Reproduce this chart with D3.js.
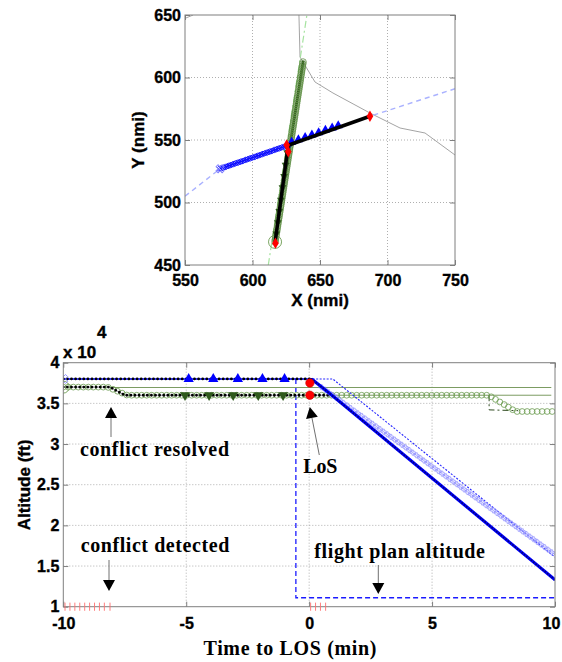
<!DOCTYPE html>
<html><head><meta charset="utf-8">
<script src="https://cdn.jsdelivr.net/npm/d3@7"></script>
<style>
html,body{margin:0;padding:0;background:#fff;}
svg{display:block;}
.tick text{font-family:"Liberation Sans",Arial,sans-serif !important;font-weight:bold !important;fill:#000;}
.tick line{stroke:#7f7f7f;}
.domain{display:none;}
.grid{stroke:#9a9a9a;stroke-width:0.8;stroke-dasharray:1,2;}
.lab{font-family:"Liberation Sans",Arial,sans-serif;font-weight:bold;fill:#000;}
.ann{font-family:"Liberation Serif","Times New Roman",serif;font-weight:bold;fill:#000;}
</style></head><body>
<svg id="c" width="562" height="662"></svg>
<script>
// ================= DATA =================
// ---- Plan view (top panel) ----
const planXTicks = [550, 600, 650, 700, 750];
const planYTicks = [450, 500, 550, 600, 650];
const ac1PlannedRoute = [[550, 505], [576, 527], [627, 546], [687, 569], [750, 591]];
const ac1TrackEarly = [[576, 527], [627, 546]];
const ac1TrackLate = [[627, 546], [687, 569]];
const ac1Triangles = [[629, 547.2], [634, 549.1], [639, 551], [644, 552.9], [649, 554.8], [654, 556.7], [659, 558.6], [663.5, 560.3]];
const ac2PlannedRoute = [[611.7, 450], [640.3, 650]];
const ac2Track = [[616.7, 468.5], [637.6, 613.5]];
const ac2Resolved = [[616.7, 468], [626.5, 546]];
const ac2Triangles = [[625.7, 540], [624.5, 530], [623.4, 521], [622.2, 512], [621, 502], [619.8, 493], [618.7, 484], [617.6, 475]];
const otherTrack = [[634.4, 650], [635.2, 616.4], [646.3, 596.4], [659.6, 587.6], [687, 571.6], [709.3, 559.6], [727.8, 555.6], [750, 538]];
const otherTrack2 = [[550, 647.3], [556, 650]];
const planRedMarkers = [[687, 569], [617, 467.5], [625.3, 546], [626.5, 540.6]];
const ac1Start = [[576, 527]];
const ac2Start = [[616.7, 468.5]];

// ---- Altitude profile (bottom panel), altitude in units of 10^4 ft ----
const timeTicks = [-10, -5, 0, 5, 10];
const altTicks = [1, 1.5, 2, 2.5, 3, 3.5, 4];
const ac1Actual = [[-10, 3.8], [0.1, 3.8], [0.84, 3.62], [10, 1.33]];
const ac1Predicted = [[0.5, 3.7], [10, 1.64]];
const ac1Intent = [[0, 3.8], [0.96, 3.8], [10, 1.61]];
const flightPlanAlt = [[-0.54, 3.8], [-0.54, 1.11], [10, 1.11]];
const ac1TriTimes = [-4.9, -3.9, -2.9, -1.9, -1.0];
const ac1Level = 3.8;
const ac2Actual = [[-10, 3.7], [-8.1, 3.7], [-7.5, 3.6], [0.96, 3.6]];
const ac2Circles = [[-10, 3.7], [-8.2, 3.7], [-7.4, 3.6], [7.3, 3.6], [8.4, 3.4], [10, 3.4]];
const ac2Planned = [[7.32, 3.6], [7.32, 3.42], [8.5, 3.41]];
const ac2Upper = [[-8.1, 3.695], [9.85, 3.695]];
const ac2Lower = [[0.96, 3.6], [9.85, 3.6]];
const ac2TriTimes = [-5.05, -4.07, -3.09, -2.07, -1.06];
const ac2Level = 3.6;
const losPoints = [[0.03, 3.75], [0.03, 3.6]];
const detectTicks = [-9.93, -9.73, -9.53, -9.33, -9.13, -8.93, -8.73, -8.53, -8.33, -8.1, 0.06, 0.26, 0.46, 0.67];
const startBig = [[-10, 3.7]];
const startX = [[-10, 3.8]];

// ================= DRAW =================
const svg = d3.select('#c');
const defs = svg.append('defs');

function samplePath(pts, x, y, step) {
  const p = svg.append('path').attr('d', d3.line().x(d => x(d[0])).y(d => y(d[1]))(pts));
  const node = p.node(), L = node.getTotalLength(), out = [];
  for (let s = 0; s <= L + 0.01; s += step) { const q = node.getPointAtLength(s); out.push([q.x, q.y]); }
  p.remove();
  return out;
}

function frame(g, x, y, xg, yg) {
  const [x0, x1] = x.range(), [y0, y1] = y.range();
  const grid = g.append('g');
  grid.selectAll('.gx').data(xg).join('line').attr('class', 'grid')
    .attr('x1', d => x(d)).attr('x2', d => x(d)).attr('y1', y0).attr('y2', y1);
  grid.selectAll('.gy').data(yg).join('line').attr('class', 'grid')
    .attr('y1', d => y(d)).attr('y2', d => y(d)).attr('x1', x0).attr('x2', x1);
}
function axes(g, x, y, xt, yt, padX, padY, fs, lastShift) {
  const [x0, x1] = x.range(), [y0, y1] = y.range();
  const fmt = d => String(d);
  const bx = g.append('g').attr('transform', `translate(0,${y0})`)
    .call(d3.axisBottom(x).tickValues(xt).tickSizeInner(-5).tickSizeOuter(0).tickPadding(padX).tickFormat(fmt));
  bx.selectAll('text').style('font-size', fs + 'px');
  if (lastShift) bx.selectAll('.tick').filter((d, i, n) => i === n.length - 1).select('text').attr('dx', lastShift);
  g.append('g').attr('transform', `translate(${x0},0)`)
    .call(d3.axisLeft(y).tickValues(yt).tickSizeInner(-5).tickSizeOuter(0).tickPadding(padY).tickFormat(fmt))
    .selectAll('text').style('font-size', fs + 'px');
  g.append('g').attr('transform', `translate(0,${y1})`)
    .call(d3.axisTop(x).tickValues(xt).tickSizeInner(-5).tickSizeOuter(0).tickFormat(''));
  g.append('g').attr('transform', `translate(${x1},0)`)
    .call(d3.axisRight(y).tickValues(yt).tickSizeInner(-5).tickSizeOuter(0).tickFormat(''));
  g.selectAll('.tick text').style('font-family', '"Liberation Sans",Arial,sans-serif').style('font-weight', 'bold')
    .attr('stroke', '#000').attr('stroke-width', 0.35);
  g.append('rect').attr('x', x0).attr('y', y1).attr('width', x1 - x0).attr('height', y0 - y1)
    .attr('fill', 'none').attr('stroke', '#7f7f7f').attr('stroke-width', 1);
}
function clip(id, x, y) {
  const [x0, x1] = x.range(), [y0, y1] = y.range();
  defs.append('clipPath').attr('id', id).append('rect').attr('x', x0).attr('y', y1).attr('width', x1 - x0).attr('height', y0 - y1);
}

// ---------- TOP: plan view ----------
const xP = d3.scaleLinear([550, 750], [185, 455]);
const yP = d3.scaleLinear([450, 650], [265, 15]);
const gT = svg.append('g');
frame(gT, xP, yP, [600, 650, 700], [500, 550, 600]);
clip('clipTop', xP, yP);
const dT = gT.append('g').attr('clip-path', 'url(#clipTop)');
const lineP = d3.line().x(d => xP(d[0])).y(d => yP(d[1]));

dT.append('path').attr('d', lineP(otherTrack)).attr('fill', 'none').attr('stroke', '#9a9a9a').attr('stroke-width', 0.9);
dT.append('path').attr('d', lineP(otherTrack2)).attr('fill', 'none').attr('stroke', '#9a9a9a').attr('stroke-width', 0.9);
dT.append('path').attr('d', lineP(ac2PlannedRoute)).attr('fill', 'none').attr('stroke', '#a6e3a0').attr('stroke-width', 1.2).attr('stroke-dasharray', '7,3,2,3');
dT.append('path').attr('d', lineP(ac1PlannedRoute)).attr('fill', 'none').attr('stroke', '#aab2ff').attr('stroke-width', 1.4).attr('stroke-dasharray', '5,4');

// ac2 green circle band
dT.append('path').attr('d', lineP(ac2Track)).attr('fill', 'none').attr('stroke', '#2f5a1c').attr('stroke-width', 3);
dT.selectAll('.c2').data(samplePath(ac2Track, xP, yP, 2)).join('circle')
  .attr('cx', d => d[0]).attr('cy', d => d[1]).attr('r', 3.3).attr('fill', 'none').attr('stroke', '#5f8f45').attr('stroke-width', 0.8);
dT.selectAll('.t2').data(ac2Triangles).join('path')
  .attr('d', d3.symbol(d3.symbolTriangle, 26)).attr('transform', d => `translate(${xP(d[0])},${yP(d[1])}) rotate(180)`)
  .attr('fill', '#2f5a1c');
// ac1 blue cross band
dT.append('path').attr('d', lineP(ac1TrackEarly.concat(ac1TrackLate.slice(1)))).attr('fill', 'none').attr('stroke', '#0000ff').attr('stroke-width', 1.6);
dT.selectAll('.x1').data(samplePath(ac1TrackEarly, xP, yP, 1.8)).join('path')
  .attr('d', d3.symbol(d3.symbolCross, 16)).attr('transform', d => `translate(${d[0]},${d[1]}) rotate(45)`)
  .attr('fill', 'none').attr('stroke', '#1010ff').attr('stroke-width', 0.9);
dT.selectAll('.t1').data(ac1Triangles).join('path')
  .attr('d', d3.symbol(d3.symbolTriangle, 36)).attr('transform', d => `translate(${xP(d[0])},${yP(d[1]) - 1.5})`)
  .attr('fill', '#0000ff');
dT.selectAll('.s1').data(ac1Start).join('path')
  .attr('d', d3.symbol(d3.symbolCross, 40)).attr('transform', d => `translate(${xP(d[0])},${yP(d[1])}) rotate(45)`)
  .attr('fill', 'none').attr('stroke', '#8080ff').attr('stroke-width', 1);
dT.selectAll('.s2').data(ac2Start).join('circle')
  .attr('cx', d => xP(d[0])).attr('cy', d => yP(d[1])).attr('r', 6.5).attr('fill', 'none').attr('stroke', '#6a9a4e').attr('stroke-width', 0.9);
// black resolved lines
dT.append('path').attr('d', lineP(ac1TrackLate)).attr('fill', 'none').attr('stroke', '#000').attr('stroke-width', 3.5);
dT.append('path').attr('d', lineP(ac2Resolved)).attr('fill', 'none').attr('stroke', '#000').attr('stroke-width', 3.5);
dT.selectAll('.r').data(planRedMarkers).join('path')
  .attr('d', d3.symbol(d3.symbolDiamond, 38)).attr('transform', d => `translate(${xP(d[0])},${yP(d[1])})`)
  .attr('fill', '#ff0000');

axes(gT, xP, yP, planXTicks, planYTicks, 10, 4, 16, 0);
gT.append('text').attr('class', 'lab').attr('x', 320).attr('y', 306).attr('text-anchor', 'middle').attr('font-size', 17)
  .attr('stroke', '#000').attr('stroke-width', 0.35).text('X (nmi)');
gT.append('text').attr('class', 'lab').attr('transform', 'translate(144,140) rotate(-90)').attr('text-anchor', 'middle').attr('font-size', 17)
  .attr('stroke', '#000').attr('stroke-width', 0.35).text('Y (nmi)');

// ---------- BOTTOM: altitude profile ----------
const xA = d3.scaleLinear([-10, 10], [63.3, 555]);
const yA = d3.scaleLinear([1, 4], [606.7, 362.7]);
const gB = svg.append('g');
frame(gB, xA, yA, [-5, 0, 5], [1.5, 2, 2.5, 3, 3.5]);
clip('clipBot', xA, yA);
const dB = gB.append('g').attr('clip-path', 'url(#clipBot)');
const lineA = d3.line().x(d => xA(d[0])).y(d => yA(d[1]));

// flight plan altitude (dashed)
dB.append('path').attr('d', lineA(flightPlanAlt)).attr('fill', 'none').attr('stroke', '#1a1aff').attr('stroke-width', 1.3).attr('stroke-dasharray', '5,3');
// green thin lines
dB.append('path').attr('d', lineA(ac2Upper)).attr('fill', 'none').attr('stroke', '#7c9c62').attr('stroke-width', 1);
dB.append('path').attr('d', lineA(ac2Lower)).attr('fill', 'none').attr('stroke', '#7c9c62').attr('stroke-width', 1);
dB.append('path').attr('d', lineA(ac2Planned)).attr('fill', 'none').attr('stroke', '#2f4a20').attr('stroke-width', 1).attr('stroke-dasharray', '6,3,2,3');
// green circles
dB.selectAll('.gc').data(samplePath(ac2Circles, xA, yA, 5)).join('circle')
  .attr('cx', d => d[0]).attr('cy', d => d[1]).attr('r', 2.9).attr('fill', 'none').attr('stroke', '#6a9a4e').attr('stroke-width', 0.8);
// ac2 actual: black dots
dB.append('path').attr('d', lineA(ac2Actual)).attr('fill', 'none').attr('stroke', '#445').attr('stroke-width', 0.6);
dB.append('path').attr('d', lineA(ac2Actual)).attr('fill', 'none').attr('stroke', '#000').attr('stroke-width', 2.8)
  .attr('stroke-linecap', 'round').attr('stroke-dasharray', '0,4.1');
dB.selectAll('.gt').data(ac2TriTimes).join('path')
  .attr('d', d3.symbol(d3.symbolTriangle, 44)).attr('transform', d => `translate(${xA(d)},${yA(ac2Level)}) rotate(180)`)
  .attr('fill', '#2f5a1c');
// ac1 intent (dotted) and predicted (+)
dB.append('path').attr('d', lineA(ac1Intent)).attr('fill', 'none').attr('stroke', '#2828ff').attr('stroke-width', 1.1).attr('stroke-dasharray', '2,1.5');
dB.append('path').attr('d', lineA(ac1Predicted)).attr('fill', 'none').attr('stroke', '#9a9aff').attr('stroke-width', 0.8);
dB.selectAll('.pc').data(samplePath(ac1Predicted, xA, yA, 4.5)).join('path')
  .attr('d', d3.symbol(d3.symbolCross, 14)).attr('transform', d => `translate(${d[0]},${d[1]})`)
  .attr('fill', 'none').attr('stroke', '#8c8cff').attr('stroke-width', 0.7);
// ac1 actual
dB.append('path').attr('d', lineA(ac1Actual)).attr('fill', 'none').attr('stroke', '#0000ff').attr('stroke-width', 1.4);
dB.append('path').attr('d', lineA(ac1Actual.filter(d => d[0] >= 0.1))).attr('fill', 'none').attr('stroke', '#0000ff').attr('stroke-width', 3.2);
dB.append('path').attr('d', lineA(ac1Actual.filter(d => d[0] <= 0.1))).attr('fill', 'none').attr('stroke', '#000').attr('stroke-width', 2.8)
  .attr('stroke-linecap', 'round').attr('stroke-dasharray', '0,4.1');
dB.append('path').attr('d', lineA(ac1Actual.filter(d => d[0] >= 0.1))).attr('fill', 'none').attr('stroke', '#000080').attr('stroke-width', 2)
  .attr('stroke-linecap', 'round').attr('stroke-dasharray', '0,3');
dB.selectAll('.bt').data(ac1TriTimes).join('path')
  .attr('d', d3.symbol(d3.symbolTriangle, 46)).attr('transform', d => `translate(${xA(d)},${yA(ac1Level)})`)
  .attr('fill', '#0000ff');
// start markers
dB.selectAll('.sb').data(startBig).join('circle')
  .attr('cx', d => xA(d[0])).attr('cy', d => yA(d[1])).attr('r', 6).attr('fill', 'none').attr('stroke', '#6a9a4e').attr('stroke-width', 0.9);
dB.selectAll('.sx').data(startX).join('path')
  .attr('d', d3.symbol(d3.symbolCross, 50)).attr('transform', d => `translate(${xA(d[0])},${yA(d[1])}) rotate(45)`)
  .attr('fill', 'none').attr('stroke', '#8080ff').attr('stroke-width', 0.8);
// LoS points
dB.selectAll('.los').data(losPoints).join('circle')
  .attr('cx', d => xA(d[0])).attr('cy', d => yA(d[1])).attr('r', 4.2).attr('fill', '#ff0000').attr('stroke', '#cc0000').attr('stroke-width', 0.6);

axes(gB, xA, yA, timeTicks, altTicks, 11, 4, 16, -4);
// detection ticks (drawn over axis)
gB.selectAll('.dt').data(detectTicks).join('line')
  .attr('x1', d => xA(d)).attr('x2', d => xA(d)).attr('y1', yA(1.05)).attr('y2', yA(0.95))
  .attr('stroke', '#ff7070').attr('stroke-width', 0.9);

// axis labels
gB.append('text').attr('class', 'lab').attr('x', 63).attr('y', 358).attr('font-size', 17).attr('stroke', '#000').attr('stroke-width', 0.35).text('x 10');
gB.append('text').attr('class', 'lab').attr('x', 97).attr('y', 338).attr('font-size', 17).attr('stroke', '#000').attr('stroke-width', 0.35).text('4');
gB.append('text').attr('class', 'lab').attr('transform', 'translate(30,485) rotate(-90)').attr('text-anchor', 'middle').attr('font-size', 17)
  .attr('stroke', '#000').attr('stroke-width', 0.35).text('Altitude (ft)');
gB.append('text').attr('class', 'ann').attr('x', 290).attr('y', 655).attr('text-anchor', 'middle').attr('font-size', 20)
  .attr('textLength', 173).attr('lengthAdjust', 'spacing').text('Time to LOS (min)');

// annotations
function ann(txt, x, y, w) {
  gB.append('text').attr('class', 'ann').attr('x', x).attr('y', y).attr('font-size', 20)
    .attr('textLength', w).attr('lengthAdjust', 'spacing').text(txt);
}
ann('conflict resolved', 80, 456, 149);
ann('conflict detected', 80.7, 551.5, 148.6);
ann('LoS', 303.3, 473, 34);
ann('flight plan altitude', 314.3, 558, 170.7);

function arrow(x0, y0, x1, y1) {
  const dx = x1 - x0, dy = y1 - y0, L = Math.hypot(dx, dy), ux = dx / L, uy = dy / L;
  const hl = 11, hw = 6;
  const bx = x1 - ux * hl, by = y1 - uy * hl;
  gB.append('line').attr('x1', x0).attr('y1', y0).attr('x2', bx).attr('y2', by).attr('stroke', '#707070').attr('stroke-width', 1);
  gB.append('path').attr('d', `M${x1},${y1}L${bx - uy * hw},${by + ux * hw}L${bx + uy * hw},${by - ux * hw}Z`).attr('fill', '#000');
}
arrow(111, 437, 111, 407);
arrow(109, 560, 109, 591);
arrow(319.3, 455, 309.8, 407);
arrow(378.3, 565, 378.3, 594);
</script>
</body></html>
